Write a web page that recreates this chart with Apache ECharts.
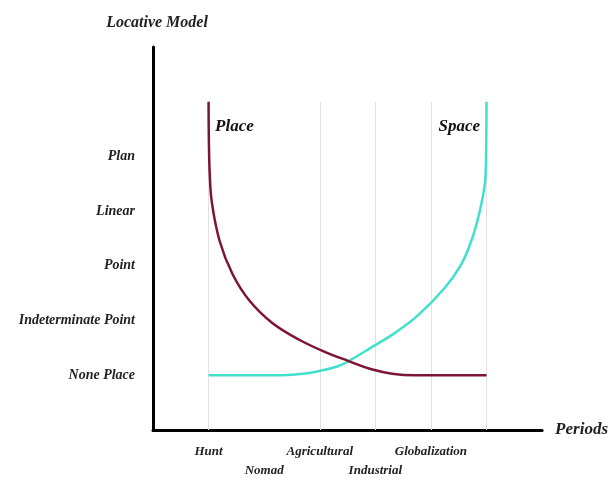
<!DOCTYPE html>
<html>
<head>
<meta charset="utf-8">
<script src="https://cdn.jsdelivr.net/npm/echarts@6/dist/echarts.min.js"></script>
<style>
html,body{margin:0;padding:0;background:#fff;}
#main{width:611px;height:480px;}
</style>
</head>
<body>
<div id="main"></div>
<script>
// periods on x axis (value -> label)
var periodTicks = [1, 2, 3, 4, 5];
var periodNames = ['Hunt', 'Nomad', 'Agricultural', 'Industrial', 'Globalization'];
var periodLower = ['Nomad', 'Industrial'];
// locative levels on y axis
var levelTicks = [1, 2, 3, 4, 5];
var levelNames = ['None Place', 'Indeterminate Point', 'Point', 'Linear', 'Plan'];
// curves
var placeData = [[1, 6], [1.005, 5.3], [1.02, 4.7], [1.06, 4.15], [1.2, 3.45], [1.43, 2.85], [1.73, 2.37],
	[2.14, 1.96], [2.63, 1.65], [3.11, 1.42], [3.52, 1.26], [3.93, 1.11], [4.3, 1.03], [4.7, 1], [6, 1]];
var spaceData = [[1, 1], [2.2, 1], [2.7, 1.03], [3.0, 1.08], [3.34, 1.17], [3.52, 1.26], [3.93, 1.51],
	[4.36, 1.78], [4.77, 2.1], [5.25, 2.6], [5.54, 3.02], [5.71, 3.41], [5.84, 3.84], [5.93, 4.25],
	[5.98, 4.61], [5.995, 5.3], [6, 6]];
// faint vertical guides
var guideX = [1, 3, 4, 5, 6];
var guideTop = 6;

var font = 'Liberation Serif';
var chart = echarts.init(document.getElementById('main'));

var guides = [];
for (var i = 0; i < guideX.length; i++) {
	guides.push([{coord: [guideX[i], 0]}, {coord: [guideX[i], guideTop]}]);
}

function curveLabel(text, pt, pos) {
	return {
		symbol: 'circle',
		symbolSize: 1,
		itemStyle: {color: 'rgba(0,0,0,0)'},
		data: [{coord: pt}],
		label: {
			show: true, position: pos, distance: 6, offset: [0, 25],
			formatter: text,
			fontFamily: font, fontStyle: 'italic', fontWeight: 'bold', fontSize: 17, color: '#111'
		}
	};
}

var option = {
	backgroundColor: '#fff',
	animation: false,
	grid: {left: 153, right: 66, top: 47, bottom: 43},
	xAxis: {
		type: 'value',
		min: 0,
		max: 7,
		interval: 1,
		name: 'Periods',
		nameLocation: 'end',
		nameGap: 13,
		nameTextStyle: {fontFamily: font, fontStyle: 'italic', fontWeight: 'bold', fontSize: 17, color: '#222'},
		axisLine: {lineStyle: {color: '#000', width: 3}},
		axisTick: {show: false},
		splitLine: {show: false},
		axisLabel: {
			margin: 12,
			lineHeight: 19,
			fontFamily: font, fontStyle: 'italic', fontWeight: 'bold', fontSize: 13, color: '#222',
			formatter: function (v) {
				var k = periodTicks.indexOf(v);
				if (k < 0) return '';
				var n = periodNames[k];
				return periodLower.indexOf(n) >= 0 ? '\n' + n : n;
			}
		}
	},
	yAxis: {
		type: 'value',
		min: 0,
		max: 7,
		interval: 1,
		name: 'Locative Model',
		nameLocation: 'end',
		nameGap: 16,
		nameTextStyle: {fontFamily: font, fontStyle: 'italic', fontWeight: 'bold', fontSize: 16, color: '#222', align: 'center', padding: [0, 0, 0, 8]},
		axisLine: {lineStyle: {color: '#000', width: 3}},
		axisTick: {show: false},
		splitLine: {show: false},
		axisLabel: {
			margin: 18,
			padding: [0, 0, 9, 0],
			fontFamily: font, fontStyle: 'italic', fontWeight: 'bold', fontSize: 14, color: '#222',
			formatter: function (v) {
				var k = levelTicks.indexOf(v);
				return k < 0 ? '' : levelNames[k];
			}
		}
	},
	series: [
		{
			// guide lines only
			name: 'guides',
			type: 'line',
			data: [],
			z: 1,
			markLine: {
				silent: true,
				z: 1,
				symbol: 'none',
				label: {show: false},
				lineStyle: {color: '#e2e2e2', width: 1, type: 'solid'},
				data: guides
			}
		},
		{
			name: 'Place',
			type: 'line',
			data: placeData,
			smooth: 0.4,
			showSymbol: false,
			symbol: 'none',
			lineStyle: {color: '#7d1434', width: 2.5},
			z: 3,
			markPoint: curveLabel('Place', placeData[0], 'right')
		},
		{
			name: 'Space',
			type: 'line',
			data: spaceData,
			smooth: 0.4,
			showSymbol: false,
			symbol: 'none',
			lineStyle: {color: '#40e0cc', width: 2.5},
			z: 2,
			markPoint: curveLabel('Space', spaceData[spaceData.length - 1], 'left')
		}
	]
};
chart.setOption(option);
</script>
</body>
</html>
